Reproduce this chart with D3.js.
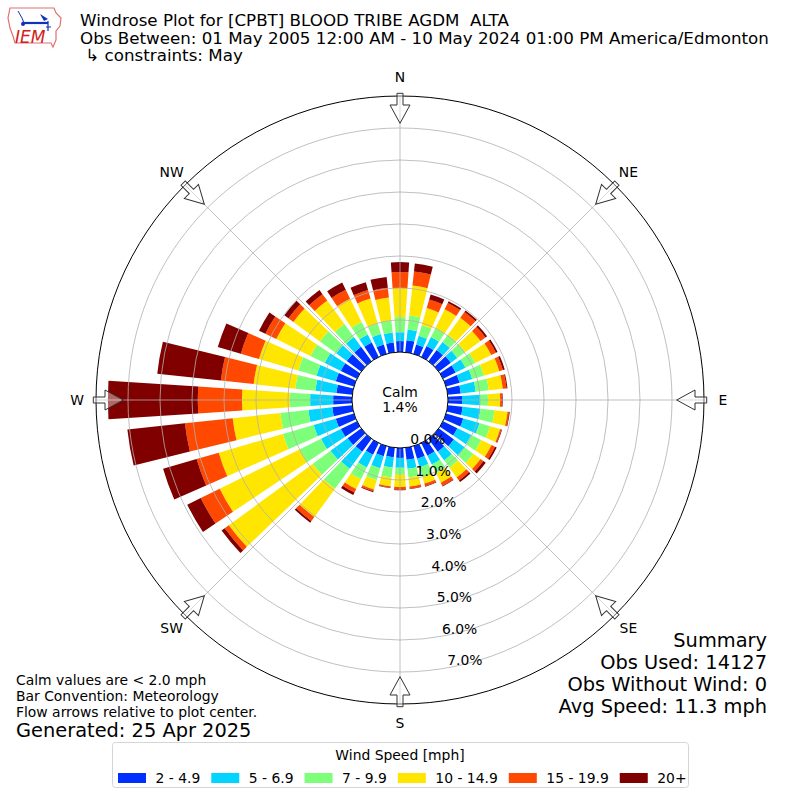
<!DOCTYPE html>
<html>
<head>
<meta charset="utf-8">
<script src="https://cdn.jsdelivr.net/npm/d3@7"></script>
<style>
body { margin: 0; background: #fff; }
svg text { font-family: "DejaVu Sans", sans-serif; white-space: pre; }
</style>
</head>
<body>
<svg id="chart" width="800" height="800"></svg>
<script>

// wind direction bins (degrees, meteorological, 10 deg wide)
var directions = d3.range(0, 360, 10);

var speed_bins = ["2 - 4.9", "5 - 6.9", "7 - 9.9", "10 - 14.9", "15 - 19.9", "20+"];
var speed_colors = ["#0030ff", "#00d4ff", "#7dff7a", "#ffe600", "#ff4800", "#800000"];

// frequency (%) for each direction, one array per speed bin
var bin_2_5 = [0.34, 0.38, 0.31, 0.38, 0.44, 0.47, 0.44, 0.44, 0.41, 0.44, 0.47, 0.56,
               0.50, 0.59, 0.50, 0.44, 0.41, 0.38, 0.31, 0.30, 0.33, 0.41, 0.50, 0.53,
               0.56, 0.59, 0.63, 0.59, 0.50, 0.59, 0.56, 0.56, 0.56, 0.50, 0.31, 0.31];
var bin_5_7 = [0.28, 0.34, 0.28, 0.31, 0.31, 0.25, 0.34, 0.41, 0.47, 0.56, 0.56, 0.53,
               0.48, 0.41, 0.34, 0.31, 0.28, 0.28, 0.31, 0.32, 0.39, 0.44, 0.66, 0.66,
               0.69, 0.72, 0.75, 0.72, 0.66, 0.63, 0.56, 0.41, 0.38, 0.28, 0.34, 0.31];
var bin_7_10 = [0.47, 0.44, 0.34, 0.31, 0.28, 0.31, 0.34, 0.38, 0.41, 0.25, 0.44, 0.34,
                0.35, 0.34, 0.28, 0.30, 0.31, 0.28, 0.22, 0.32, 0.38, 0.41, 0.78, 0.69,
                0.75, 1.00, 0.88, 0.63, 0.63, 0.59, 0.50, 0.63, 0.50, 0.44, 0.34, 0.38];
var bin_10_15 = [0.91, 0.94, 0.56, 0.66, 0.66, 0.59, 0.56, 0.50, 0.44, 0.38, 0.41, 0.33,
                 0.36, 0.28, 0.38, 0.33, 0.22, 0.28, 0.38, 0.27, 0.31, 0.34, 1.09, 3.25,
                 2.78, 2.09, 1.50, 1.50, 1.31, 1.28, 1.19, 1.03, 0.91, 0.81, 0.81, 0.72];
var bin_15_20 = [0.50, 0.44, 0.28, 0.22, 0.22, 0.19, 0.16, 0.12, 0.12, 0.06, 0.05, 0.04,
                 0.12, 0.11, 0.12, 0.11, 0.08, 0.06, 0.08, 0.04, 0.06, 0.12, 0.16, 0.16,
                 0.66, 0.72, 1.50, 1.38, 1.03, 0.59, 0.38, 0.19, 0.25, 0.31, 0.28, 0.31];
var bin_20_up = [0.31, 0.25, 0.16, 0.06, 0.06, 0.06, 0.06, 0.06, 0.03, 0.02, 0.02, 0.02,
                 0.06, 0.09, 0.06, 0.02, 0.02, 0.02, 0.02, 0.02, 0.03, 0.09, 0.06, 0.12,
                 0.47, 1.09, 1.81, 2.81, 2.00, 0.75, 0.22, 0.16, 0.16, 0.25, 0.25, 0.34];

var ring_ticks = [0, 1, 2, 3, 4, 5, 6, 7];
var compass_labels = ["N", "NE", "E", "SE", "S", "SW", "W", "NW"];
var compass_angles = [0, 45, 90, 135, 180, 225, 270, 315];

var calm_pct = 1.4;

var title_lines = ["Windrose Plot for [CPBT] BLOOD TRIBE AGDM  ALTA",
                   "Obs Between: 01 May 2005 12:00 AM - 10 May 2024 01:00 PM America/Edmonton",
                   " \u21b3 constraints: May"];
var summary_lines = ["Summary", "Obs Used: 14127", "Obs Without Wind: 0", "Avg Speed: 11.3 mph"];
var note_lines = ["Calm values are < 2.0 mph", "Bar Convention: Meteorology",
                  "Flow arrows relative to plot center."];
var generated = "Generated: 25 Apr 2025";

var svg = d3.select("#chart");
var cx = 400, cy = 400;

var rad = function(deg) { return deg * Math.PI / 180; };

var r = d3.scaleLinear().domain([0, 8]).range([48, 304]);
var bar_width = rad(7.6);

// table for d3.stack
var series = [bin_2_5, bin_5_7, bin_7_10, bin_10_15, bin_15_20, bin_20_up];
var table = directions.map(function(dir, i) {
    var row = {dir: dir};
    for ( var k = 0; k < speed_bins.length; k++ ) {
        row[speed_bins[k]] = series[k][i];
    }
    return row;
});

var stack = d3.stack().keys(speed_bins);
var layers = stack(table);

var plot = svg.append("g").attr("transform", "translate(" + cx + "," + cy + ")");

var arc = d3.arc()
    .innerRadius(function(d) { return r(d[0]); })
    .outerRadius(function(d) { return r(d[1]); })
    .startAngle(function(d) { return rad(d.data.dir) - bar_width / 2; })
    .endAngle(function(d) { return rad(d.data.dir) + bar_width / 2; });

plot.selectAll(".layer")
    .data(layers)
    .enter().append("g")
    .attr("class", "layer")
    .attr("fill", function(d, i) { return speed_colors[i]; })
    .selectAll("path")
    .data(function(d) { return d; })
    .enter().append("path")
    .attr("d", arc);

// grid on top of the bars
plot.selectAll(".ring")
    .data(ring_ticks.slice(1))
    .enter().append("circle")
    .attr("class", "ring")
    .attr("r", function(d) { return r(d); })
    .attr("fill", "none")
    .attr("stroke", "#b0b0b0")
    .attr("stroke-width", 0.8);

plot.selectAll(".spoke")
    .data(compass_angles)
    .enter().append("line")
    .attr("class", "spoke")
    .attr("x1", function(d) { return r(0) * Math.sin(rad(d)); })
    .attr("y1", function(d) { return -r(0) * Math.cos(rad(d)); })
    .attr("x2", function(d) { return r(8) * Math.sin(rad(d)); })
    .attr("y2", function(d) { return -r(8) * Math.cos(rad(d)); })
    .attr("stroke", "#b0b0b0")
    .attr("stroke-width", 0.8);

plot.append("circle")
    .attr("r", r(8))
    .attr("fill", "none")
    .attr("stroke", "#000")
    .attr("stroke-width", 1);

plot.append("circle")
    .attr("r", r(0))
    .attr("fill", "#fff")
    .attr("stroke", "#000")
    .attr("stroke-width", 1);

// flow arrows on the outer edge
var ro = r(8);
var arrow_path = "M-3," + (-ro - 2.7) + " L3," + (-ro - 2.7) + " L3," + (-ro + 9) +
    " L10," + (-ro + 9) + " L0," + (-ro + 27.3) + " L-10," + (-ro + 9) +
    " L-3," + (-ro + 9) + " Z";

plot.selectAll(".arrow")
    .data(compass_angles)
    .enter().append("path")
    .attr("class", "arrow")
    .attr("d", arrow_path)
    .attr("transform", function(d) { return "rotate(" + d + ")"; })
    .attr("fill", "#fff")
    .attr("fill-opacity", 0.4)
    .attr("stroke", "#333")
    .attr("stroke-width", 1);

plot.selectAll(".compass")
    .data(compass_angles)
    .enter().append("text")
    .attr("class", "compass")
    .attr("x", function(d) { return (ro + 19) * Math.sin(rad(d)); })
    .attr("y", function(d) { return -(ro + 19) * Math.cos(rad(d)); })
    .attr("text-anchor", "middle")
    .attr("dominant-baseline", "central")
    .attr("font-size", 13.9)
    .text(function(d, i) { return compass_labels[i]; });

// ring labels along ~170 deg
var label_angle = rad(9.5);
plot.selectAll(".rlabel")
    .data(ring_ticks)
    .enter().append("text")
    .attr("class", "rlabel")
    .attr("x", function(d) { return r(d) * Math.sin(label_angle) + 20; })
    .attr("y", function(d) { return r(d) * Math.cos(label_angle) - 8; })
    .attr("text-anchor", "middle")
    .attr("dominant-baseline", "central")
    .attr("font-size", 13.9)
    .text(function(d) { return d.toFixed(1) + "%"; });

plot.append("text")
    .attr("y", -8)
    .attr("text-anchor", "middle")
    .attr("dominant-baseline", "central")
    .attr("font-size", 13.9)
    .text("Calm");

plot.append("text")
    .attr("y", 7)
    .attr("text-anchor", "middle")
    .attr("dominant-baseline", "central")
    .attr("font-size", 13.9)
    .text(calm_pct.toFixed(1) + "%");

// header
svg.selectAll(".title")
    .data(title_lines)
    .enter().append("text")
    .attr("class", "title")
    .attr("x", 80)
    .attr("y", function(d, i) { return 26 + i * 17.5; })
    .attr("font-size", 16.7)
    .text(function(d) { return d; });

// logo
var logo = svg.append("g");
logo.append("path")
    .attr("d", "M10,8 L54,8 L56,13 L61,18 L60,26 L56,31 L56,40 L53,47 L51,43 L15,43 L13,36 L10,28 L8,18 Z")
    .attr("fill", "#fff")
    .attr("stroke", "#e07070")
    .attr("stroke-width", 1.2);
logo.append("line").attr("x1", 22).attr("y1", 23).attr("x2", 48).attr("y2", 23)
    .attr("stroke", "#1030c0").attr("stroke-width", 2.2);
logo.append("path").attr("d", "M40,14 L48,19 L44,21 Z").attr("fill", "#1030c0");
logo.append("path").attr("d", "M18,11 L22,18 L24,23").attr("fill", "none")
    .attr("stroke", "#1030c0").attr("stroke-width", 1);
logo.append("circle").attr("cx", 23).attr("cy", 24).attr("r", 2).attr("fill", "#1030c0");
logo.append("path").attr("d", "M48,21 L48,31 M46,27 L51,27").attr("fill", "none")
    .attr("stroke", "#1030c0").attr("stroke-width", 1.2);
logo.append("text")
    .attr("x", 15)
    .attr("y", 43)
    .attr("font-family", "'Liberation Serif', 'DejaVu Serif', serif")
    .attr("font-style", "italic")
    .attr("font-size", 17)
    .attr("fill", "#d02020")
    .text("IEM");

// summary block
svg.selectAll(".summary")
    .data(summary_lines)
    .enter().append("text")
    .attr("class", "summary")
    .attr("x", 767)
    .attr("y", function(d, i) { return 647 + i * 22; })
    .attr("text-anchor", "end")
    .attr("font-size", 19.4)
    .text(function(d) { return d; });

svg.selectAll(".note")
    .data(note_lines)
    .enter().append("text")
    .attr("class", "note")
    .attr("x", 16)
    .attr("y", function(d, i) { return 685 + i * 16; })
    .attr("font-size", 13.9)
    .text(function(d) { return d; });

svg.append("text")
    .attr("x", 16)
    .attr("y", 737)
    .attr("font-size", 19.4)
    .text(generated);

// legend
var legend = svg.append("g");
legend.append("rect")
    .attr("x", 112.5).attr("y", 742.5)
    .attr("width", 576).attr("height", 45)
    .attr("rx", 3)
    .attr("fill", "#fff")
    .attr("stroke", "#d5d5d5");

legend.append("text")
    .attr("x", 400)
    .attr("y", 755)
    .attr("text-anchor", "middle")
    .attr("dominant-baseline", "central")
    .attr("font-size", 13.9)
    .text("Wind Speed [mph]");

var lx = 118;
speed_bins.forEach(function(label, i) {
    legend.append("rect")
        .attr("x", lx).attr("y", 773)
        .attr("width", 28).attr("height", 10)
        .attr("fill", speed_colors[i]);
    var t = legend.append("text")
        .attr("x", lx + 37.5)
        .attr("y", 778)
        .attr("dominant-baseline", "central")
        .attr("font-size", 13.9)
        .text(label);
    lx += 37.5 + t.node().getComputedTextLength() + 11;
});

</script>
</body>
</html>
